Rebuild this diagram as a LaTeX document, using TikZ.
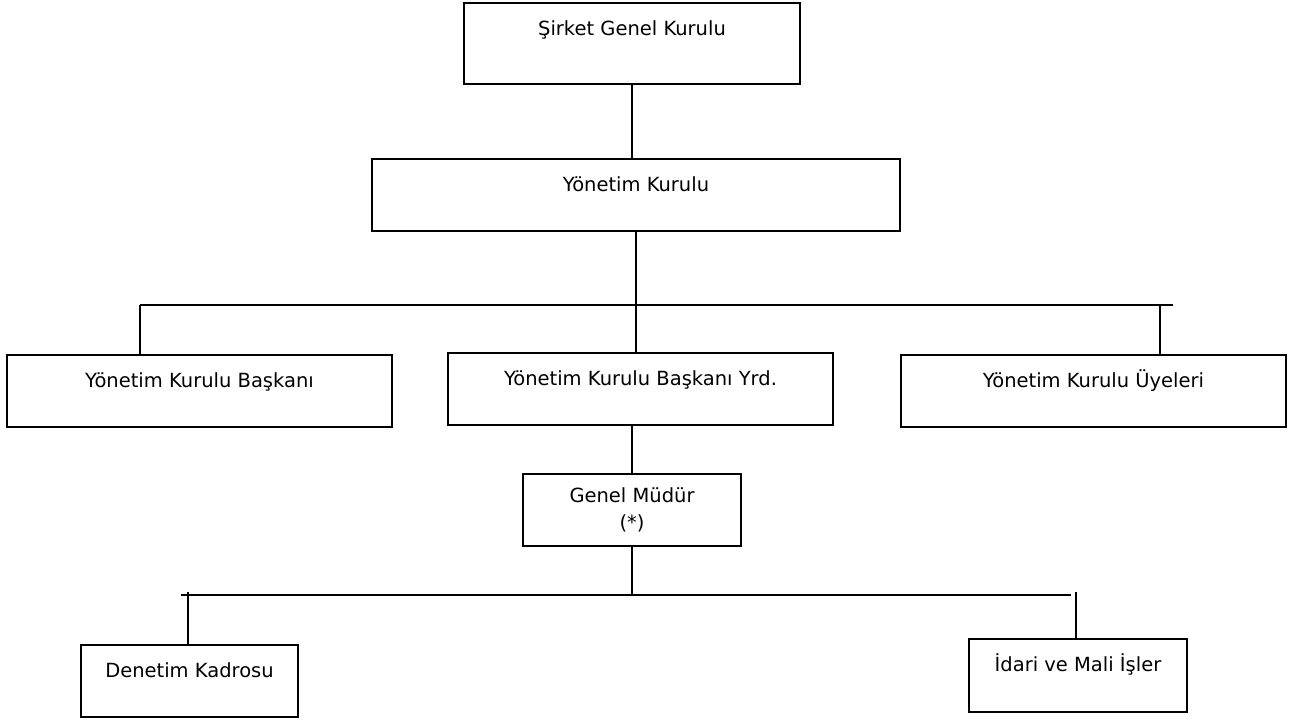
\documentclass[tikz,border=0pt]{standalone}
\usepackage{fontspec}
\setmainfont{DejaVu Sans}
\usepackage{tikz}
\usetikzlibrary{calc, positioning}
\tikzset{
    boxnode/.style = {draw, rectangle, fill=none, line width=2.2pt, inner sep=0pt, node distance=0em,
      font=\fontsize{19.5}{27}\selectfont, text height=32pt, text depth=40pt},
    connect/.style = {black, line width=2pt},
    every text node part/.style={align=center}
}

\begin{document}
\begin{tikzpicture}
\useasboundingbox (0pt,0pt) rectangle (1292pt,-720pt);
\node [boxnode, name=sgk, minimum width=336pt, text depth=49pt] at (632pt,-43.5pt) {Şirket Genel Kurulu};
\node [boxnode, name=yk, minimum width=528pt, below of=sgk, xshift=4pt, yshift=-151.5pt] {Yönetim Kurulu};
\draw [connect] (sgk.south) -- (sgk.south |- yk.north);

\node [boxnode, name=ykb, minimum width=385pt, below of=yk, xshift=-436.5pt, yshift=-196pt] {Yönetim Kurulu Başkanı};
\node [boxnode, name=ykby, minimum width=385pt, below of=yk, xshift=4.5pt, yshift=-194pt] {Yönetim Kurulu Başkanı Yrd.};
\node [boxnode, name=yku, minimum width=385pt, below of=yk, xshift=457.5pt, yshift=-196pt] {Yönetim Kurulu Üyeleri};

\coordinate (bus1w) at (140pt,-305pt);
\coordinate (bus1e) at (1173pt,-305pt);
\coordinate (bus1r) at (1160pt,-305pt);
\draw [connect] (bus1w) -- (bus1e);
\draw [connect] (yk.south) -- (yk.south |- bus1w);
\draw [connect] (bus1w) -- (bus1w |- ykb.north);
\draw [connect] (yk.south |- bus1w) -- (yk.south |- ykby.north);
\draw [connect] (bus1r) -- (bus1r |- yku.north);

\node [boxnode, name=gm, minimum width=218pt, minimum height=72pt, text height=, text depth=, below of=ykby, xshift=-8.5pt, yshift=-121pt] {Genel Müdür\\(*)};
\draw [connect] (ykby.south -| gm.north) -- (gm.north);

\node [boxnode, name=dk, minimum width=217pt, below of=gm, xshift=-442.5pt, yshift=-171pt] {Denetim Kadrosu};
\node [boxnode, name=imi, minimum width=218pt, text depth=41pt, below of=gm, xshift=446pt, yshift=-165.5pt] {İdari ve Mali İşler};

\coordinate (bus2w) at (181pt,-595pt);
\coordinate (bus2e) at (1071pt,-595pt);
\coordinate (bus2l) at (188pt,-592pt);
\coordinate (bus2r) at (1076pt,-592pt);
\draw [connect] (bus2w) -- (bus2e);
\draw [connect] (gm.south) -- (gm.south |- bus2w);
\draw [connect] (bus2l) -- (bus2l |- dk.north);
\draw [connect] (bus2r) -- (bus2r |- imi.north);
\end{tikzpicture}
\end{document}
